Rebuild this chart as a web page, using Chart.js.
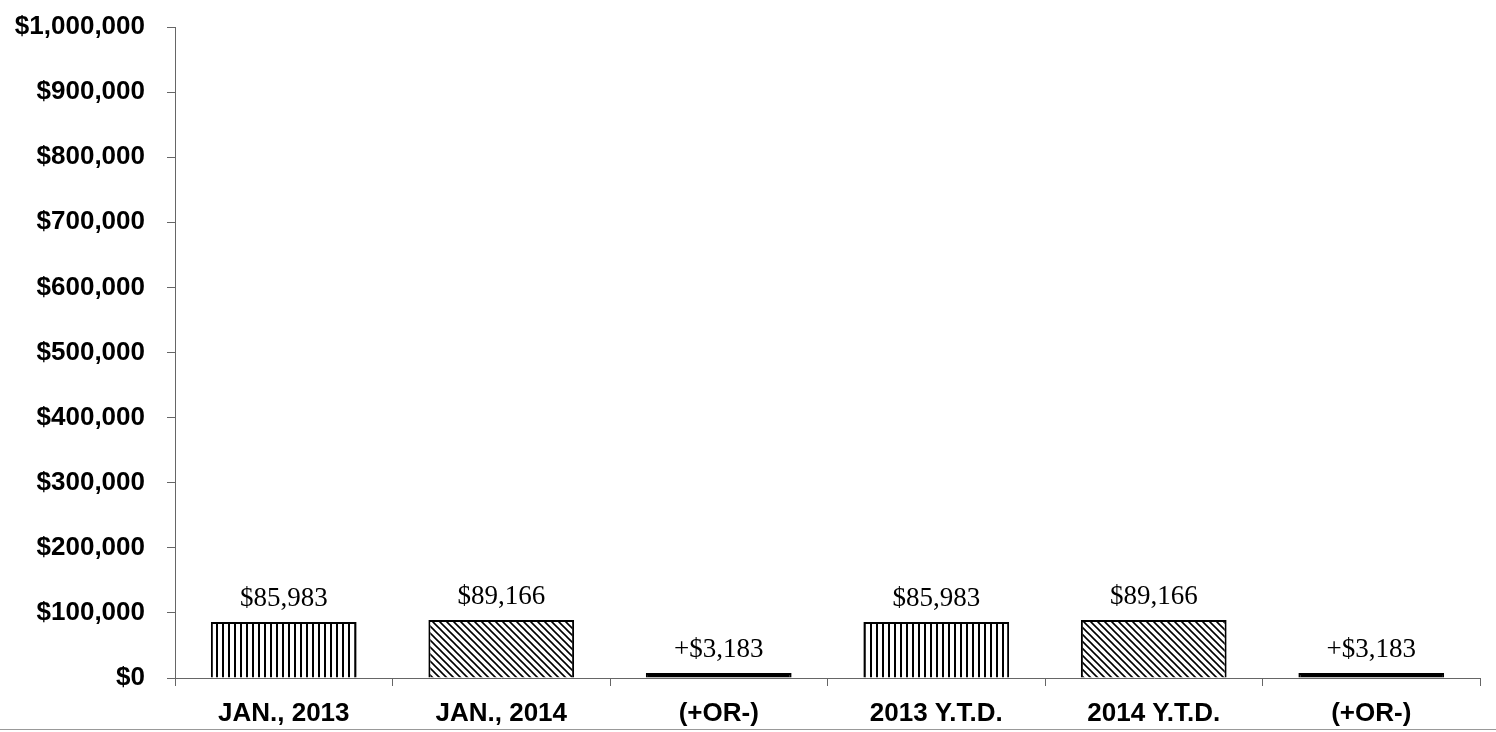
<!DOCTYPE html>
<html>
<head>
<meta charset="utf-8">
<script src="https://cdn.jsdelivr.net/npm/chart.js@4/dist/chart.umd.min.js"></script>
<style>
  html, body { margin: 0; padding: 0; background: #fff; }
  #wrap { position: relative; width: 1496px; height: 732px; }
  #scanline { position: absolute; left: 0; right: 0; top: 729px; height: 1px; background: #999; }
</style>
</head>
<body>
<div id="wrap">
  <canvas id="chart" width="1496" height="732"></canvas>
  <div id="scanline"></div>
</div>
<script>
// categories and values
const categories = ['JAN., 2013', 'JAN., 2014', '(+OR-)', '2013 Y.T.D.', '2014 Y.T.D.', '(+OR-)'];
const amounts = [85983, 89166, 3183, 85983, 89166, 3183];
const amountLabels = ['$85,983', '$89,166', '+$3,183', '$85,983', '$89,166', '+$3,183'];
const fillKinds = ['vertical', 'diagonal', 'solid', 'vertical', 'diagonal', 'solid'];
const yTicks = [0, 100000, 200000, 300000, 400000, 500000, 600000, 700000, 800000, 900000, 1000000];

function makePattern(kind) {
  if (kind === 'solid') return '#000';
  const c = document.createElement('canvas');
  const ctx = c.getContext('2d');
  if (kind === 'vertical') {
    c.width = 6; c.height = 6;
    ctx.fillStyle = '#fff';
    ctx.fillRect(0, 0, 6, 6);
    ctx.fillStyle = '#000';
    ctx.fillRect(0, 0, 2, 6);
  } else {
    c.width = 7; c.height = 7;
    ctx.fillStyle = '#fff';
    ctx.fillRect(0, 0, 7, 7);
    ctx.strokeStyle = '#000';
    ctx.lineWidth = 1.6;
    ctx.beginPath();
    ctx.moveTo(-1, -1); ctx.lineTo(8, 8);
    ctx.moveTo(-8, -1); ctx.lineTo(1, 8);
    ctx.moveTo(6, -1); ctx.lineTo(15, 8);
    ctx.stroke();
  }
  return ctx.createPattern(c, 'repeat');
}

const valueLabels = {
  id: 'valueLabels',
  afterDatasetsDraw(chart) {
    const ctx = chart.ctx;
    const meta = chart.getDatasetMeta(0);
    ctx.save();
    ctx.fillStyle = '#000';
    ctx.font = '27px "Liberation Serif", "Times New Roman", serif';
    ctx.textAlign = 'center';
    ctx.textBaseline = 'bottom';
    meta.data.forEach((bar, i) => {
      ctx.fillText(amountLabels[i], bar.x, bar.y - 10);
    });
    ctx.restore();
  }
};

new Chart(document.getElementById('chart'), {
  type: 'bar',
  data: {
    labels: categories,
    datasets: [{
      data: amounts,
      backgroundColor: fillKinds.map(makePattern),
      borderColor: '#000',
      borderWidth: 2,
      minBarLength: 5,
      categoryPercentage: 1,
      barPercentage: 0.67
    }]
  },
  options: {
    responsive: false,
    animation: false,
    layout: { padding: { top: 27, right: 16, left: 0, bottom: 0 } },
    plugins: { legend: { display: false }, tooltip: { enabled: false } },
    scales: {
      x: {
        offset: true,
        grid: { display: true, offset: true, drawOnChartArea: false, tickLength: 8, color: '#666' },
        border: { color: '#666', width: 1 },
        ticks: {
          color: '#000', padding: 12,
          font: { family: '"Liberation Sans", Arial, sans-serif', size: 26, weight: 'bold' }
        },
        afterFit(scale) { scale.height = 54; }
      },
      y: {
        min: 0, max: 1000000,
        afterBuildTicks(scale) { scale.ticks = yTicks.map(v => ({ value: v })); },
        grid: { display: true, drawOnChartArea: false, tickLength: 8, color: '#666' },
        border: { color: '#666', width: 1 },
        ticks: {
          color: '#000', padding: 22,
          font: { family: '"Liberation Sans", Arial, sans-serif', size: 26, weight: 'bold' },
          callback: v => '$' + v.toLocaleString('en-US')
        },
        afterFit(scale) {
          scale.width = 175;
          scale.paddingTop = 0;
          scale.paddingBottom = 0;
        }
      }
    }
  },
  plugins: [valueLabels]
});
</script>
</body>
</html>
